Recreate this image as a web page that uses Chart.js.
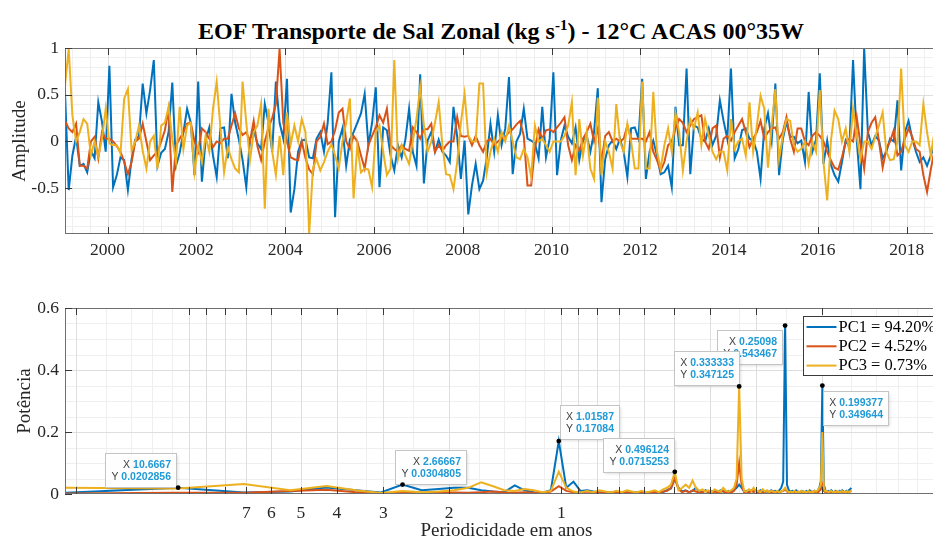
<!DOCTYPE html>
<html><head><meta charset="utf-8">
<script src="https://cdn.jsdelivr.net/npm/chart.js@4.4.1/dist/chart.umd.min.js"></script>
<style>
html,body{margin:0;padding:0;background:#fff;overflow:hidden;width:933px;height:541px;}
#wrap{position:relative;width:933px;height:541px;overflow:hidden;background:#fff;}
#title{position:absolute;left:0;top:16px;width:1002px;text-align:center;font-family:"Liberation Serif",serif;font-weight:bold;font-size:24px;line-height:30px;color:#000;white-space:nowrap;}
#title sup{font-size:15px;vertical-align:9px;line-height:0;}
canvas{position:absolute;left:0;}
#c1{top:0;}
#c2{top:275px;}
</style></head>
<body><div id="wrap">
<div id="title">EOF Transporte de Sal Zonal (kg s<sup>-1</sup>) - 12°C ACAS 00°35W</div>
<canvas id="c1" width="960" height="275"></canvas>
<canvas id="c2" width="960" height="266"></canvas>
</div>
<script>
// ---------- DATA ----------
// Monthly amplitudes of the three EOF modes, Jan 1999 ... Dec 2018
const PC1 = [
 0.53,-0.52,-0.15,0.05,-0.26,-0.24,-0.33,-0.10,-0.18,0.42,
 0.21,-0.11,0.81,-0.49,-0.36,-0.17,-0.20,-0.52,-0.19,0.02,
 0.06,0.62,0.30,0.55,0.87,-0.26,-0.12,-0.08,0.10,0.63,
 -0.26,-0.12,0.10,0.35,0.20,-0.36,0.64,-0.43,0.01,0.15,
 -0.15,-0.38,0.14,0.15,-0.18,0.51,0.20,0.02,-0.20,-0.49,
 0.03,0.12,-0.02,-0.08,0.40,0.20,-0.11,0.64,0.20,0.03,
 0.67,-0.76,-0.51,-0.11,0.01,0.02,-0.17,-0.18,0.03,0.10,
 -0.11,0.20,0.74,-0.81,0.00,0.14,-0.26,0.02,0.10,0.20,
 0.30,0.51,-0.04,0.20,0.58,-0.49,0.15,0.12,-0.15,-0.31,
 -0.04,-0.17,0.02,0.35,-0.11,-0.26,0.72,-0.45,0.01,0.10,
 -0.11,0.02,-0.11,-0.15,-0.22,0.37,0.05,-0.40,0.01,-0.78,
 -0.47,-0.24,-0.51,-0.42,-0.17,0.19,-0.11,0.28,-0.04,0.14,
 0.69,-0.35,0.00,0.08,0.35,0.03,0.01,-0.02,-0.18,0.37,
 -0.17,0.03,0.74,-0.36,0.01,0.17,0.05,-0.02,0.15,-0.20,
 0.01,0.06,-0.11,0.10,0.57,-0.65,-0.19,-0.04,0.01,-0.08,
 0.03,-0.11,-0.38,0.14,0.15,0.03,0.67,-0.40,-0.11,0.01,
 -0.15,-0.35,-0.33,-0.26,-0.49,0.37,-0.04,-0.04,0.78,-0.35,
 0.17,0.15,0.03,0.00,0.14,-0.04,0.06,0.44,0.22,0.03,
 0.78,-0.18,-0.08,0.12,0.14,0.03,0.01,-0.11,-0.40,0.14,
 0.30,0.01,0.62,-0.36,0.02,0.21,0.05,0.05,-0.02,0.01,
 -0.22,0.53,-0.11,0.02,0.73,-0.24,0.01,-0.25,-0.36,-0.43,
 -0.22,0.01,-0.06,0.87,0.01,-0.51,1.00,0.10,-0.04,0.06,
 0.01,-0.18,-0.11,0.03,0.00,0.44,-0.31,0.10,0.22,0.03,
 -0.11,-0.22,-0.17,-0.26,-0.15,-0.05,0.10,-0.10,0.05,0.00
];
const PC2 = [
 0.22,0.14,0.10,0.19,-0.26,-0.26,-0.29,0.00,0.05,-0.18,
 0.10,0.03,0.03,0.00,-0.05,-0.11,-0.22,-0.35,-0.22,0.00,
 0.03,0.19,0.00,-0.20,-0.15,-0.11,0.00,0.12,0.35,-0.54,
 -0.04,0.03,0.10,0.19,0.20,0.00,-0.11,0.14,0.10,0.03,
 -0.06,0.00,-0.02,0.03,0.03,0.17,0.30,0.14,0.07,0.10,
 0.00,0.22,-0.05,-0.20,0.00,0.15,0.25,0.40,0.99,0.20,
 0.00,-0.17,-0.19,-0.20,0.00,-0.18,-0.30,-0.35,0.00,0.05,
 0.19,-0.03,0.00,0.12,0.31,0.35,0.00,-0.08,0.06,0.00,
 -0.15,-0.29,-0.04,0.06,0.15,0.28,0.20,0.35,-0.04,-0.08,
 -0.11,-0.04,-0.08,-0.10,0.15,0.10,0.03,0.13,0.13,0.19,
 -0.11,-0.04,-0.10,-0.04,0.00,0.00,0.26,0.06,0.05,0.06,
 -0.04,0.06,-0.04,-0.11,0.00,0.03,-0.04,0.00,0.03,0.05,
 0.10,0.13,0.18,0.22,0.06,-0.47,-0.47,-0.08,0.13,0.03,
 0.12,0.13,0.10,0.15,0.20,0.26,-0.04,-0.20,-0.04,-0.10,
 0.03,0.10,0.19,0.00,0.14,-0.22,0.06,0.10,0.00,0.03,
 0.00,0.03,0.17,0.03,0.03,0.03,0.03,0.00,0.10,-0.11,
 -0.20,-0.31,-0.22,-0.04,0.00,0.14,0.24,0.20,0.10,0.17,
 0.24,0.26,0.28,0.00,-0.08,0.14,0.17,-0.17,0.03,0.06,
 0.01,0.10,0.17,0.24,0.10,-0.06,0.03,0.10,0.22,0.03,
 0.10,0.14,0.15,0.03,0.10,0.26,0.03,-0.11,0.14,0.14,
 0.00,-0.04,0.06,0.10,0.06,0.00,-0.11,-0.20,-0.28,-0.30,
 -0.17,0.00,0.03,0.00,0.26,-0.03,-0.29,0.10,0.20,0.26,
 0.00,-0.28,-0.08,0.00,0.12,-0.15,-0.11,0.03,0.14,0.05,
 -0.08,-0.11,-0.36,-0.54,-0.30,-0.10,0.00,0.05,0.00,-0.05
];
const PC3 = [
 0.60,0.99,0.28,0.00,0.10,0.24,0.19,-0.15,0.00,-0.16,
 0.03,0.35,-0.02,-0.04,-0.04,-0.13,0.46,0.56,-0.10,0.00,
 0.17,-0.10,-0.29,0.00,0.06,-0.29,0.17,0.20,0.37,0.03,
 -0.22,0.37,-0.08,0.17,0.20,-0.33,-0.04,-0.22,0.06,-0.11,
 0.35,0.64,0.15,-0.33,-0.06,-0.19,-0.29,-0.33,0.64,0.20,
 -0.20,0.10,0.17,0.40,-0.72,0.35,-0.11,-0.36,0.06,-0.36,
 0.31,-0.03,0.17,0.00,0.24,0.10,-0.99,-0.29,-0.19,-0.31,
 -0.22,-0.11,-0.03,-0.15,-0.29,0.00,0.20,0.46,-0.61,-0.04,
 -0.33,-0.29,-0.30,-0.49,0.10,0.17,-0.11,-0.36,-0.29,0.87,
 -0.19,-0.04,-0.15,-0.24,0.00,0.24,0.58,0.17,-0.11,0.00,
 0.20,0.42,-0.04,-0.35,-0.36,-0.51,-0.22,0.20,0.51,0.06,
 0.00,0.00,0.62,0.62,-0.33,-0.11,0.03,-0.11,0.10,0.00,
 0.17,0.00,-0.17,-0.19,-0.08,-0.17,-0.38,0.17,0.00,0.03,
 -0.04,-0.11,0.00,0.00,0.00,0.06,0.17,0.42,-0.36,0.24,
 -0.15,0.10,-0.29,-0.40,0.47,-0.36,0.00,-0.11,-0.29,0.40,
 0.00,-0.11,0.19,0.00,-0.29,-0.29,0.64,-0.29,-0.29,0.53,
 -0.11,-0.29,-0.04,0.14,-0.11,0.30,0.10,-0.31,0.00,0.24,
 0.14,0.31,-0.04,0.24,0.06,-0.11,-0.19,-0.11,-0.11,-0.31,
 0.24,-0.08,0.00,0.03,-0.15,0.42,-0.11,0.17,0.49,0.35,
 -0.28,0.17,0.56,-0.19,0.06,0.24,0.22,-0.04,-0.11,-0.08,
 0.00,-0.24,0.00,-0.11,0.55,-0.22,-0.63,0.00,0.33,0.24,
 0.00,0.14,-0.11,0.35,0.06,-0.19,0.00,0.00,-0.08,0.05,
 0.17,0.31,-0.11,-0.20,-0.19,0.00,0.78,-0.04,-0.11,0.00,
 0.00,-0.04,0.40,0.10,-0.15,0.10,0.20,-0.10,0.00,0.05
];
const START_YEAR = 1999;
const yearTicks = [2000,2002,2004,2006,2008,2010,2012,2014,2016,2018];
const ampTicks = [-0.5,0,0.5,1];

// Power spectra (FFT bins k = 1..128, NFFT = 256, 12 samples / year)
const NFFT = 256, FS = 12;
const specPC1 = [
 0.004,0.0202856,0.005,0.008,0.021,0.012,0.005,0.0304805,0.012,0.016,0.020,0.020,0.012,0.008,0.006,0.028,
 0.012,0.006,0.004,0.012,0.17084,0.020,0.040,0.010,0.012,0.008,0.006,0.005,0.004,0.008,0.003,0.005,
 0.004,0.006,0.003,0.004,0.005,0.008,0.004,0.006,0.012,0.018,0.050,0.020,0.008,0.012,0.006,0.010,
 0.020,0.008,0.005,0.012,0.006,0.008,0.010,0.006,0.012,0.008,0.005,0.010,0.008,0.012,0.020,0.030,
 0.020,0.008,0.010,0.005,0.012,0.008,0.010,0.006,0.012,0.008,0.005,0.010,0.006,0.012,0.008,0.010,
 0.006,0.012,0.020,0.040,0.543467,0.030,0.012,0.008,0.010,0.006,0.012,0.008,0.005,0.010,0.008,0.006,
 0.010,0.006,0.012,0.008,0.005,0.010,0.006,0.012,0.020,0.040,0.349644,0.030,0.012,0.008,0.010,0.006,
 0.012,0.008,0.005,0.010,0.008,0.006,0.010,0.006,0.012,0.008,0.005,0.010,0.006,0.012,0.015,0.020
];
const specPC2 = [
 0.002,0.004,0.004,0.010,0.014,0.006,0.003,0.005,0.004,0.006,0.005,0.004,0.006,0.008,0.005,0.004,
 0.006,0.004,0.003,0.008,0.025,0.010,0.006,0.004,0.008,0.005,0.003,0.006,0.004,0.005,0.003,0.006,
 0.004,0.003,0.005,0.004,0.003,0.006,0.004,0.008,0.010,0.020,0.050,0.015,0.006,0.010,0.005,0.012,
 0.008,0.004,0.006,0.010,0.005,0.004,0.008,0.005,0.006,0.010,0.004,0.006,0.005,0.010,0.030,0.100,
 0.030,0.006,0.008,0.004,0.010,0.006,0.012,0.005,0.008,0.004,0.006,0.010,0.005,0.004,0.008,0.005,
 0.006,0.004,0.008,0.010,0.015,0.008,0.005,0.004,0.006,0.005,0.004,0.008,0.005,0.004,0.006,0.005,
 0.004,0.006,0.005,0.004,0.008,0.005,0.006,0.004,0.010,0.015,0.030,0.010,0.005,0.004,0.006,0.005,
 0.004,0.006,0.005,0.004,0.006,0.005,0.004,0.006,0.005,0.004,0.006,0.005,0.004,0.006,0.008,0.010
];
const specPC3 = [
 0.020,0.018,0.032,0.012,0.026,0.012,0.003,0.010,0.006,0.008,0.012,0.020,0.038,0.025,0.012,0.010,
 0.016,0.012,0.006,0.010,0.072,0.020,0.008,0.005,0.010,0.006,0.012,0.008,0.005,0.010,0.006,0.012,
 0.008,0.005,0.010,0.006,0.008,0.012,0.006,0.015,0.020,0.030,0.0715253,0.012,0.020,0.030,0.020,0.043,
 0.020,0.010,0.015,0.008,0.012,0.006,0.015,0.010,0.008,0.020,0.010,0.008,0.012,0.020,0.050,0.347125,
 0.050,0.010,0.008,0.015,0.010,0.020,0.008,0.010,0.006,0.015,0.008,0.012,0.006,0.010,0.008,0.006,
 0.010,0.006,0.008,0.012,0.020,0.010,0.006,0.008,0.005,0.010,0.006,0.008,0.005,0.010,0.006,0.008,
 0.005,0.010,0.006,0.008,0.005,0.010,0.008,0.012,0.020,0.030,0.200,0.020,0.008,0.010,0.006,0.008,
 0.010,0.006,0.008,0.005,0.010,0.006,0.008,0.005,0.010,0.006,0.008,0.005,0.010,0.006,0.008,0.012
];
const periodTicks  = [20,10,9,8,7,6,5,4,3,2,1,0.9,0.8,0.7,0.6,0.5,0.4,0.3,0.2];
const periodLabels = ['','','','','7','6','5','4','3','2','1','','','','','','','',''];
const powTicks = [0,0.2,0.4,0.6];
const seriesNames = ['PC1 = 94.20%','PC2 = 4.52%','PC3 = 0.73%'];
const seriesColors = ['#0072BD','#D95319','#EDB120'];
// data tips: series index, FFT bin k
const dataTips = [
  {s:0,k:2,anchor:'br',dx:-2,dy:-1},
  {s:0,k:8,anchor:'bl',dx:-8,dy:-1},
  {s:0,k:21,anchor:'bl',dx:1,dy:-2},
  {s:2,k:43,anchor:'br',dx:-1,dy:0},
  {s:0,k:85,anchor:'tr',dx:-3,dy:4},
  {s:2,k:64,anchor:'br',dx:0,dy:-1},
  {s:0,k:107,anchor:'tl',dx:1,dy:5}
];

// ---------- STYLE ----------
const SERIF = '"Liberation Serif", "Times New Roman", serif';
const SANS = '"Liberation Sans", Arial, sans-serif';
const INK = '#262626';

function fmt6(v){ let s = Number(v).toPrecision(6); if (s.indexOf('.')>=0 && s.indexOf('e')<0) s = s.replace(/0+$/,'').replace(/\.$/,''); return s; }

function makeAxesPlugin(cfg){
  return {
    id:'matlabAxes',
    beforeDatasetsDraw(chart){
      const {ctx, chartArea:a} = chart; const xs = chart.scales.x, ys = chart.scales.y;
      ctx.save();
      ctx.beginPath(); ctx.rect(a.left,a.top,a.right-a.left,a.bottom-a.top); ctx.clip();
      ctx.lineWidth = 1;
      const vl = (v,c)=>{const p=Math.round(xs.getPixelForValue(v))+0.5; ctx.strokeStyle=c; ctx.beginPath(); ctx.moveTo(p,a.top); ctx.lineTo(p,a.bottom); ctx.stroke();};
      const hl = (v,c)=>{const p=Math.round(ys.getPixelForValue(v))+0.5; ctx.strokeStyle=c; ctx.beginPath(); ctx.moveTo(a.left,p); ctx.lineTo(a.right,p); ctx.stroke();};
      cfg.xMinor.forEach(v=>vl(v,'#efefef'));
      cfg.yMinor.forEach(v=>hl(v,'#efefef'));
      xs.ticks.forEach(t=>vl(t.value,'#dedede'));
      ys.ticks.forEach(t=>hl(t.value,'#dedede'));
      ctx.restore();
    },
    afterDatasetsDraw(chart){
      const {ctx, chartArea:a} = chart; const xs = chart.scales.x, ys = chart.scales.y;
      ctx.save();
      ctx.lineWidth = 1; ctx.strokeStyle = '#707070';
      ctx.strokeRect(a.left+0.5, a.top+0.5, a.right-a.left-1, a.bottom-a.top-1);
      ctx.strokeStyle = '#3a3a3a';
      const L = 7;
      ctx.beginPath();
      xs.ticks.forEach(t=>{const p=Math.round(xs.getPixelForValue(t.value))+0.5;
        ctx.moveTo(p,a.bottom); ctx.lineTo(p,a.bottom-L); ctx.moveTo(p,a.top); ctx.lineTo(p,a.top+L);});
      ys.ticks.forEach(t=>{const p=Math.round(ys.getPixelForValue(t.value))+0.5;
        ctx.moveTo(a.left,p); ctx.lineTo(a.left+L,p); ctx.moveTo(a.right,p); ctx.lineTo(a.right-L,p);});
      ctx.stroke();
      ctx.restore();
    }
  };
}

const tipsPlugin = {
  id:'dataTips',
  afterDraw(chart){
    const ctx = chart.ctx; const xs = chart.scales.x, ys = chart.scales.y;
    const specs = [specPC1, specPC2, specPC3];
    dataTips.forEach(t=>{
      const f = FS*t.k/NFFT, val = specs[t.s][t.k-1];
      const px = xs.getPixelForValue(f), py = ys.getPixelForValue(val);
      const lines = [['X ', fmt6(1/f)], ['Y ', fmt6(val)]];
      ctx.save();
      const lf = '10.5px '+SANS, vf = 'bold 10.5px '+SANS;
      let w = 0;
      lines.forEach(l=>{ctx.font=lf; const a=ctx.measureText(l[0]).width; ctx.font=vf; const b=ctx.measureText(l[1]).width; w=Math.max(w,a+b);});
      const bw = Math.round(w+11), bh = 34;
      let bx, by;
      if (t.anchor==='br'){bx=px+t.dx-bw; by=py+t.dy-bh;}
      else if (t.anchor==='bl'){bx=px+t.dx; by=py+t.dy-bh;}
      else if (t.anchor==='tr'){bx=px+t.dx-bw; by=py+t.dy;}
      else {bx=px+t.dx; by=py+t.dy;}
      bx=Math.round(bx)+0.5; by=Math.round(by)+0.5;
      ctx.shadowColor='rgba(0,0,0,0.18)'; ctx.shadowBlur=3; ctx.shadowOffsetX=1; ctx.shadowOffsetY=1;
      ctx.fillStyle='rgba(255,255,255,0.96)'; ctx.fillRect(bx,by,bw,bh);
      ctx.shadowColor='transparent';
      ctx.strokeStyle='#c4c4c4'; ctx.lineWidth=1; ctx.strokeRect(bx,by,bw,bh);
      ctx.textBaseline='middle'; ctx.textAlign='right';
      lines.forEach((l,i)=>{
        const yy = by + 11.5 + i*11.8; const xr = bx + bw - 5.5;
        ctx.font=vf; ctx.fillStyle='#1f9ad6'; ctx.fillText(l[1], xr, yy);
        const vw = ctx.measureText(l[1]).width;
        ctx.font=lf; ctx.fillStyle='#404040'; ctx.fillText(l[0], xr - vw, yy);
      });
      ctx.fillStyle='#000'; ctx.beginPath(); ctx.arc(px,py,2.4,0,Math.PI*2); ctx.fill();
      ctx.restore();
    });
    // legend
    const lx = 803.5, ly = 316.5-275, lw = 200, lh = 59;
    ctx.save();
    ctx.fillStyle='#fff'; ctx.fillRect(lx,ly,lw,lh);
    ctx.strokeStyle='#3a3a3a'; ctx.lineWidth=1; ctx.strokeRect(lx,ly,lw,lh);
    ctx.font='16.5px '+SERIF; ctx.textBaseline='middle'; ctx.textAlign='left';
    chart.data.datasets.forEach((d,i)=>{
      const yy = ly + 10.5 + i*19.3;
      ctx.strokeStyle=d.borderColor; ctx.lineWidth=2;
      ctx.beginPath(); ctx.moveTo(lx+3, yy); ctx.lineTo(lx+33, yy); ctx.stroke();
      ctx.fillStyle='#000'; ctx.fillText(d.label, lx+35, yy+0.5);
    });
    ctx.restore();
  }
};

// ---------- TOP CHART ----------
const tAxis = PC1.map((_,i)=> START_YEAR + (i+0.5)/12);
const xMinorTop = []; for (let j=0;j<=50;j++){const v=Math.round((1999.2+0.4*j)*10)/10; if (Math.abs(v/2-Math.round(v/2))>1e-6) xMinorTop.push(v);}
const yMinorTop = []; for (let j=-9;j<=9;j++){ if (j%5!==0) yMinorTop.push(j/10); }
const tickFont = {family:SERIF, size:17.5};
const topSeries = [PC1,PC2,PC3];
new Chart(document.getElementById('c1'), {
  type:'line',
  data:{datasets: topSeries.map((arr,si)=>({
    label: seriesNames[si], data: arr.map((v,i)=>({x:tAxis[i], y:v})),
    borderColor: seriesColors[si], borderWidth:2, pointRadius:0, tension:0, fill:false, order:3-si
  }))},
  options:{
    responsive:false, animation:false, devicePixelRatio:1,
    layout:{padding:{left:0,right:12,top:48,bottom:0}},
    plugins:{legend:{display:false}, tooltip:{enabled:false}},
    scales:{
      x:{type:'linear', min:START_YEAR+0.5/12, max:2018.93,
        afterBuildTicks:s=>{s.ticks = yearTicks.map(v=>({value:v}));},
        afterFit:s=>{s.height=41;},
        grid:{display:false, drawTicks:false}, border:{display:false},
        ticks:{autoSkip:false, maxRotation:0, padding:6, font:tickFont, color:INK, callback:v=>String(v)}},
      y:{type:'linear', min:-0.99, max:1,
        afterBuildTicks:s=>{s.ticks = ampTicks.map(v=>({value:v}));},
        afterFit:s=>{s.width=65;},
        grid:{display:false, drawTicks:false}, border:{display:false},
        ticks:{padding:6, font:tickFont, color:INK, callback:v=>String(v)},
        title:{display:true, text:'Amplitude', font:{family:SERIF,size:19}, color:INK, padding:{top:9,bottom:0}}}
    }
  },
  plugins:[makeAxesPlugin({xMinor:xMinorTop, yMinor:yMinorTop})]
});

// ---------- BOTTOM CHART ----------
const freq = specPC1.map((_,i)=> FS*(i+1)/NFFT);
const xMinorBot = []; [0.01,0.1,1,10].forEach(d=>{for(let m=1;m<=9;m++) xMinorBot.push(m*d);});
const yMinorBot = [0.05,0.1,0.15,0.25,0.3,0.35,0.45,0.5,0.55];
const botSeries = [specPC1,specPC2,specPC3];
new Chart(document.getElementById('c2'), {
  type:'line',
  data:{datasets: botSeries.map((arr,si)=>({
    label: seriesNames[si], data: arr.map((v,i)=>({x:freq[i], y:v})),
    borderColor: seriesColors[si], borderWidth:2, pointRadius:0, tension:0, fill:false, order:3-si
  }))},
  options:{
    responsive:false, animation:false, devicePixelRatio:1,
    layout:{padding:{left:0,right:12,top:33,bottom:0}},
    plugins:{legend:{display:false}, tooltip:{enabled:false}},
    scales:{
      x:{type:'logarithmic', min:0.0466, max:10.9,
        afterBuildTicks:s=>{s.ticks = periodTicks.map(p=>({value:1/p}));},
        afterFit:s=>{s.height=47;},
        grid:{display:false, drawTicks:false}, border:{display:false},
        ticks:{autoSkip:false, maxRotation:0, padding:9, font:tickFont, color:INK, callback:(v,i)=>periodLabels[i]},
        title:{display:true, text:'Periodicidade em anos', font:{family:SERIF,size:19,lineHeight:1}, color:INK, padding:{top:0,bottom:0.5}}},
      y:{type:'linear', min:0, max:0.6,
        afterBuildTicks:s=>{s.ticks = powTicks.map(v=>({value:v}));},
        afterFit:s=>{s.width=65;},
        grid:{display:false, drawTicks:false}, border:{display:false},
        ticks:{padding:6, font:tickFont, color:INK, callback:v=>String(v)},
        title:{display:true, text:'Potência', font:{family:SERIF,size:19}, color:INK, padding:{top:14,bottom:0}}}
    }
  },
  plugins:[makeAxesPlugin({xMinor:xMinorBot, yMinor:yMinorBot}), tipsPlugin]
});
</script>
</body></html>
